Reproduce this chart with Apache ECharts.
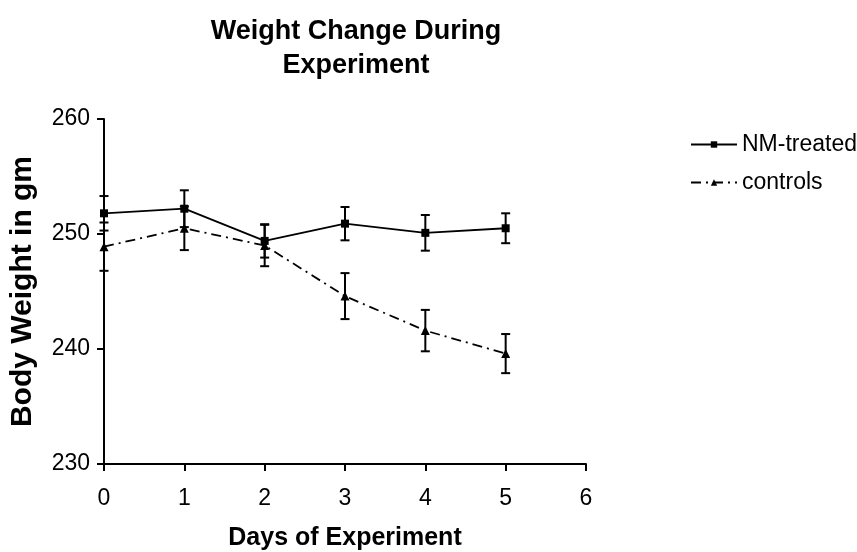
<!DOCTYPE html>
<html>
<head>
<meta charset="utf-8">
<script src="https://cdn.jsdelivr.net/npm/echarts@6/dist/echarts.min.js"></script>
<style>html,body{margin:0;padding:0;background:#fff}#c{width:857px;height:552px}</style>
</head>
<body>
<div id="c"></div>
<script>
const days = [0, 1, 2, 3, 4, 5];
const nmMean = [251.8, 252.2, 249.4, 250.9, 250.1, 250.5];
const nmErr = [1.5, 1.6, 1.45, 1.45, 1.55, 1.3];
const ctrlMean = [248.9, 250.5, 249.0, 244.6, 241.6, 239.6];
const ctrlErr = [2.1, 1.9, 1.8, 2.0, 1.8, 1.7];
const xTicks = [0, 1, 2, 3, 4, 5, 6];
const yTicks = [230, 240, 250, 260];

const FONT = 'Arial, "Liberation Sans", sans-serif';
const chart = echarts.init(document.getElementById('c'));

function errData(mean, err) {
  return days.map((d, i) => [d, mean[i] - err[i], mean[i] + err[i]]);
}
function renderErr(params, api) {
  const x = api.value(0);
  const lo = api.coord([x, api.value(1)]);
  const hi = api.coord([x, api.value(2)]);
  const hw = 4.5;
  const st = { stroke: '#000', lineWidth: 2, fill: null };
  return {
    type: 'group',
    children: [
      { type: 'line', shape: { x1: lo[0], y1: lo[1], x2: hi[0], y2: hi[1] }, style: st },
      { type: 'line', shape: { x1: hi[0] - hw, y1: hi[1], x2: hi[0] + hw, y2: hi[1] }, style: st },
      { type: 'line', shape: { x1: lo[0] - hw, y1: lo[1], x2: lo[0] + hw, y2: lo[1] }, style: st }
    ]
  };
}

chart.setOption({
  animation: false,
  backgroundColor: '#fff',
  textStyle: { fontFamily: FONT },
  title: {
    text: 'Weight Change During\nExperiment',
    left: 351, top: 10, textAlign: 'center',
    textStyle: { fontFamily: FONT, fontWeight: 'bold', fontSize: 27, color: '#000', lineHeight: 34 }
  },
  legend: {
    orient: 'vertical', left: 685, top: 128,
    itemWidth: 46, itemHeight: 8, itemGap: 15,
    textStyle: { fontFamily: FONT, fontSize: 23, color: '#000' },
    data: ['NM-treated', 'controls']
  },
  grid: { left: 104, right: 271, top: 119, bottom: 88, containLabel: false, outerBoundsMode: 'none' },
  xAxis: {
    type: 'value', min: xTicks[0], max: xTicks[xTicks.length - 1], interval: 1,
    name: 'Days of Experiment', nameLocation: 'middle', nameGap: 62,
    nameTextStyle: { fontFamily: FONT, fontWeight: 'bold', fontSize: 25, color: '#000' },
    axisLine: { lineStyle: { color: '#000', width: 2 } },
    axisTick: { length: 7, lineStyle: { color: '#000', width: 2 } },
    axisLabel: { fontFamily: FONT, fontSize: 23, color: '#000', margin: 23 },
    splitLine: { show: false }
  },
  yAxis: {
    type: 'value', min: yTicks[0], max: yTicks[yTicks.length - 1], interval: 10,
    name: 'Body Weight in gm', nameLocation: 'middle', nameGap: 66,
    nameTextStyle: { fontFamily: FONT, fontWeight: 'bold', fontSize: 30, color: '#000' },
    axisLine: { show: true, lineStyle: { color: '#000', width: 2 } },
    axisTick: { show: true, length: 7, lineStyle: { color: '#000', width: 2 } },
    axisLabel: { fontFamily: FONT, fontSize: 23, color: '#000', margin: 14 },
    splitLine: { show: false }
  },
  series: [
    {
      type: 'custom', name: 'nmErr', renderItem: renderErr,
      data: errData(nmMean, nmErr), silent: true, z: 3
    },
    {
      type: 'custom', name: 'ctrlErr', renderItem: renderErr,
      data: errData(ctrlMean, ctrlErr), silent: true, z: 3
    },
    {
      type: 'line', name: 'NM-treated',
      data: days.map((d, i) => [d, nmMean[i]]),
      symbol: 'rect', symbolSize: 8, showSymbol: true,
      itemStyle: { color: '#000' },
      lineStyle: { color: '#000', width: 1.8, type: 'solid' }, z: 4
    },
    {
      type: 'line', name: 'controls',
      data: days.map((d, i) => [d, ctrlMean[i]]),
      symbol: 'triangle', symbolSize: 9, showSymbol: true,
      itemStyle: { color: '#000' },
      lineStyle: { color: '#000', width: 1.8, type: [10, 5, 2, 5] }, z: 4
    }
  ]
});
</script>
</body>
</html>
